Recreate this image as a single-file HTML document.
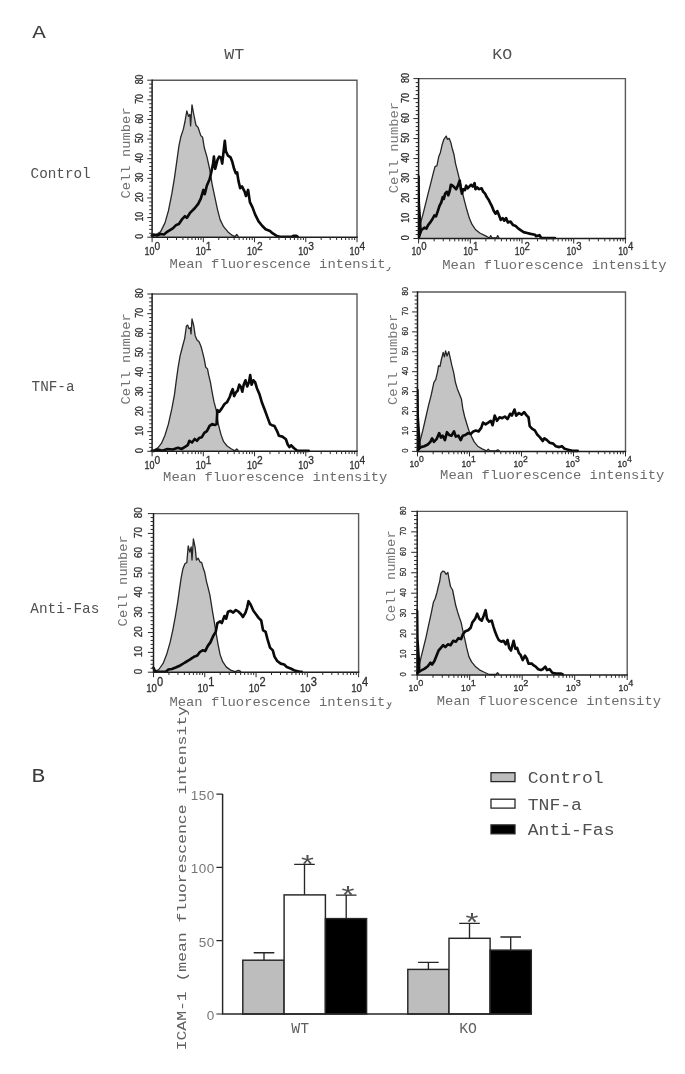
<!DOCTYPE html>
<html lang="en"><head><meta charset="utf-8"><title>Figure</title>
<style>html,body{margin:0;padding:0;background:#fff}body{width:685px;height:1074px;overflow:hidden}svg text{white-space:pre}</style>
</head><body>
<svg width="685" height="1074" viewBox="0 0 685 1074" style="display:block">
<rect width="685" height="1074" fill="#fff"/>
<text transform="translate(32.20 38.00) scale(1.000 0.850)" font-family='"Liberation Mono", monospace' font-size="22.6" fill="#3c3c3c" text-anchor="start" >A</text>
<text transform="translate(31.60 781.80) scale(1.000 0.860)" font-family='"Liberation Mono", monospace' font-size="22.6" fill="#3c3c3c" text-anchor="start" >B</text>
<text transform="translate(224.30 59.40) scale(1.000 0.905)" font-family='"Liberation Mono", monospace' font-size="16.6" fill="#505050" text-anchor="start" >WT</text>
<text transform="translate(492.30 59.40) scale(1.000 0.905)" font-family='"Liberation Mono", monospace' font-size="16.6" fill="#505050" text-anchor="start" >KO</text>
<text transform="translate(30.60 178.00)" font-family='"Liberation Mono", monospace' font-size="14.3" fill="#505050" text-anchor="start" >Control</text>
<text transform="translate(31.60 391.00) scale(1.000 0.970)" font-family='"Liberation Mono", monospace' font-size="14.3" fill="#505050" text-anchor="start" >TNF-a</text>
<text transform="translate(30.30 613.40) scale(1.000 0.970)" font-family='"Liberation Mono", monospace' font-size="14.4" fill="#505050" text-anchor="start" >Anti-Fas</text>
<path d="M152.1 236.7 L152.6 236.7 L160.5 231.9 L164.9 223.1 L168.4 210.9 L171.9 193.4 L174.5 177.6 L177.2 158.3 L178.9 146.1 L180.7 137.3 L183.3 129.4 L185.0 121.5 L186.8 111.0 L188.5 116.3 L189.9 114.5 L190.6 125.9 L192.0 104.9 L193.8 114.5 L195.9 125.0 L198.2 127.7 L200.8 135.6 L202.6 137.3 L204.3 147.8 L206.9 156.6 L209.6 168.8 L212.2 184.6 L214.8 196.9 L217.4 209.1 L220.1 219.6 L223.6 226.7 L228.0 231.9 L232.3 235.4 L235.0 236.7 L236.7 234.5 L238.5 236.7 Z" fill="#c4c4c4" stroke="none"/>
<path d="M152.1 236.7 L152.6 236.7 L160.5 231.9 L164.9 223.1 L168.4 210.9 L171.9 193.4 L174.5 177.6 L177.2 158.3 L178.9 146.1 L180.7 137.3 L183.3 129.4 L185.0 121.5 L186.8 111.0 L188.5 116.3 L189.9 114.5 L190.6 125.9 L192.0 104.9 L193.8 114.5 L195.9 125.0 L198.2 127.7 L200.8 135.6 L202.6 137.3 L204.3 147.8 L206.9 156.6 L209.6 168.8 L212.2 184.6 L214.8 196.9 L217.4 209.1 L220.1 219.6 L223.6 226.7 L228.0 231.9 L232.3 235.4 L235.0 236.7 L236.7 234.5 L238.5 236.7" fill="none" stroke="#262626" stroke-width="1.3" stroke-linejoin="round"/>
<path d="M151.8 235.4 L153.5 234.5 L157.0 235.4 L160.5 234.0 L164.0 234.5 L167.5 231.6 L172.8 228.4 L176.3 224.9 L178.9 224.0 L182.4 218.8 L185.0 216.1 L186.8 217.9 L190.3 212.6 L194.7 208.3 L198.2 203.9 L200.8 198.6 L203.4 189.9 L204.7 194.2 L206.9 185.5 L209.6 179.3 L211.3 172.3 L213.1 163.6 L213.9 156.6 L215.2 168.8 L217.4 160.1 L219.2 156.6 L221.0 157.4 L222.2 163.6 L223.6 151.3 L224.8 140.8 L225.9 151.3 L228.0 155.7 L230.6 157.4 L232.3 161.8 L234.1 168.8 L235.8 173.2 L237.1 172.3 L238.5 181.1 L240.2 188.1 L242.0 186.4 L244.6 191.6 L246.0 196.0 L248.1 189.9 L249.9 202.1 L252.5 207.4 L255.1 214.4 L258.6 221.4 L262.1 225.8 L265.6 229.3 L270.0 231.0 L272.8 233.4 L276.3 235.7 L279.8 236.7 L290.3 236.7 L292.0 236.7 L293.8 235.7 L296.4 235.7 L297.7 236.7" fill="none" stroke="#0a0a0a" stroke-width="2.65" stroke-linejoin="round" stroke-linecap="round"/>
<path d="M152.10 80.20H357.00V237.20" fill="none" stroke="#5a5a5a" stroke-width="1.4"/>
<path d="M152.10 79.50V237.20H357.70" fill="none" stroke="#1c1c1c" stroke-width="1.5"/>
<path d="M147.30 237.20H152.10M149.20 233.27H152.10M149.20 229.35H152.10M149.20 225.42H152.10M149.20 221.50H152.10M147.30 217.57H152.10M149.20 213.65H152.10M149.20 209.72H152.10M149.20 205.80H152.10M149.20 201.88H152.10M147.30 197.95H152.10M149.20 194.02H152.10M149.20 190.10H152.10M149.20 186.17H152.10M149.20 182.25H152.10M147.30 178.32H152.10M149.20 174.40H152.10M149.20 170.47H152.10M149.20 166.55H152.10M149.20 162.62H152.10M147.30 158.70H152.10M149.20 154.77H152.10M149.20 150.85H152.10M149.20 146.93H152.10M149.20 143.00H152.10M147.30 139.07H152.10M149.20 135.15H152.10M149.20 131.22H152.10M149.20 127.30H152.10M149.20 123.38H152.10M147.30 119.45H152.10M149.20 115.52H152.10M149.20 111.60H152.10M149.20 107.67H152.10M149.20 103.75H152.10M147.30 99.82H152.10M149.20 95.90H152.10M149.20 91.97H152.10M149.20 88.05H152.10M149.20 84.12H152.10M147.30 80.20H152.10" stroke="#2a2a2a" stroke-width="1" fill="none"/>
<path d="M152.10 237.20V242.20M167.52 237.20V240.00M176.54 237.20V240.00M182.94 237.20V240.00M187.90 237.20V240.00M191.96 237.20V240.00M195.39 237.20V240.00M198.36 237.20V240.00M200.98 237.20V240.00M203.32 237.20V242.20M218.75 237.20V240.00M227.77 237.20V240.00M234.17 237.20V240.00M239.13 237.20V240.00M243.19 237.20V240.00M246.62 237.20V240.00M249.59 237.20V240.00M252.21 237.20V240.00M254.55 237.20V242.20M269.97 237.20V240.00M278.99 237.20V240.00M285.39 237.20V240.00M290.35 237.20V240.00M294.41 237.20V240.00M297.84 237.20V240.00M300.81 237.20V240.00M303.43 237.20V240.00M305.77 237.20V242.20M321.20 237.20V240.00M330.22 237.20V240.00M336.62 237.20V240.00M341.58 237.20V240.00M345.64 237.20V240.00M349.07 237.20V240.00M352.04 237.20V240.00M354.66 237.20V240.00M357.00 237.20V242.20" stroke="#2a2a2a" stroke-width="1" fill="none"/>
<text transform="translate(142.80 236.40) rotate(-90) scale(0.855 1.000)" font-family='"Liberation Sans", sans-serif' font-size="10.2" fill="#2e2e2e" text-anchor="middle" stroke="#2e2e2e" stroke-width="0.3">0</text>
<text transform="translate(142.80 216.77) rotate(-90) scale(0.855 1.000)" font-family='"Liberation Sans", sans-serif' font-size="10.2" fill="#2e2e2e" text-anchor="middle" stroke="#2e2e2e" stroke-width="0.3">10</text>
<text transform="translate(142.80 197.15) rotate(-90) scale(0.855 1.000)" font-family='"Liberation Sans", sans-serif' font-size="10.2" fill="#2e2e2e" text-anchor="middle" stroke="#2e2e2e" stroke-width="0.3">20</text>
<text transform="translate(142.80 177.52) rotate(-90) scale(0.855 1.000)" font-family='"Liberation Sans", sans-serif' font-size="10.2" fill="#2e2e2e" text-anchor="middle" stroke="#2e2e2e" stroke-width="0.3">30</text>
<text transform="translate(142.80 157.90) rotate(-90) scale(0.855 1.000)" font-family='"Liberation Sans", sans-serif' font-size="10.2" fill="#2e2e2e" text-anchor="middle" stroke="#2e2e2e" stroke-width="0.3">40</text>
<text transform="translate(142.80 138.27) rotate(-90) scale(0.855 1.000)" font-family='"Liberation Sans", sans-serif' font-size="10.2" fill="#2e2e2e" text-anchor="middle" stroke="#2e2e2e" stroke-width="0.3">50</text>
<text transform="translate(142.80 118.65) rotate(-90) scale(0.855 1.000)" font-family='"Liberation Sans", sans-serif' font-size="10.2" fill="#2e2e2e" text-anchor="middle" stroke="#2e2e2e" stroke-width="0.3">60</text>
<text transform="translate(142.80 99.02) rotate(-90) scale(0.855 1.000)" font-family='"Liberation Sans", sans-serif' font-size="10.2" fill="#2e2e2e" text-anchor="middle" stroke="#2e2e2e" stroke-width="0.3">70</text>
<text transform="translate(142.80 79.40) rotate(-90) scale(0.855 1.000)" font-family='"Liberation Sans", sans-serif' font-size="10.2" fill="#2e2e2e" text-anchor="middle" stroke="#2e2e2e" stroke-width="0.3">80</text>
<text transform="translate(154.50 255.00) scale(0.900 1.000)" font-family='"Liberation Sans", sans-serif' font-size="10" fill="#2e2e2e" text-anchor="end" stroke="#2e2e2e" stroke-width="0.3">10</text>
<text transform="translate(154.60 249.70) scale(0.900 1.000)" font-family='"Liberation Sans", sans-serif' font-size="11.3" fill="#2e2e2e" text-anchor="start" stroke="#2e2e2e" stroke-width="0.3">0</text>
<text transform="translate(205.72 255.00) scale(0.900 1.000)" font-family='"Liberation Sans", sans-serif' font-size="10" fill="#2e2e2e" text-anchor="end" stroke="#2e2e2e" stroke-width="0.3">10</text>
<text transform="translate(205.82 249.70) scale(0.900 1.000)" font-family='"Liberation Sans", sans-serif' font-size="11.3" fill="#2e2e2e" text-anchor="start" stroke="#2e2e2e" stroke-width="0.3">1</text>
<text transform="translate(256.95 255.00) scale(0.900 1.000)" font-family='"Liberation Sans", sans-serif' font-size="10" fill="#2e2e2e" text-anchor="end" stroke="#2e2e2e" stroke-width="0.3">10</text>
<text transform="translate(257.05 249.70) scale(0.900 1.000)" font-family='"Liberation Sans", sans-serif' font-size="11.3" fill="#2e2e2e" text-anchor="start" stroke="#2e2e2e" stroke-width="0.3">2</text>
<text transform="translate(308.17 255.00) scale(0.900 1.000)" font-family='"Liberation Sans", sans-serif' font-size="10" fill="#2e2e2e" text-anchor="end" stroke="#2e2e2e" stroke-width="0.3">10</text>
<text transform="translate(308.27 249.70) scale(0.900 1.000)" font-family='"Liberation Sans", sans-serif' font-size="11.3" fill="#2e2e2e" text-anchor="start" stroke="#2e2e2e" stroke-width="0.3">3</text>
<text transform="translate(359.40 255.00) scale(0.900 1.000)" font-family='"Liberation Sans", sans-serif' font-size="10" fill="#2e2e2e" text-anchor="end" stroke="#2e2e2e" stroke-width="0.3">10</text>
<text transform="translate(359.50 249.70) scale(0.900 1.000)" font-family='"Liberation Sans", sans-serif' font-size="11.3" fill="#2e2e2e" text-anchor="start" stroke="#2e2e2e" stroke-width="0.3">4</text>
<text transform="translate(130.20 198.60) rotate(-90) scale(1.000 0.900)" font-family='"Liberation Mono", monospace' font-size="13.85" fill="#707070" text-anchor="start" >Cell number</text>
<text transform="translate(169.60 268.20) scale(1.000 0.860)" font-family='"Liberation Mono", monospace' font-size="13.85" fill="#6c6c6c" text-anchor="start" >Mean fluorescence intensity</text>
<rect x="385.6" y="255" width="16" height="12.3" fill="#fff"/>
<path d="M419.6 238.0 L419.6 226.9 L419.9 225.1 L422.9 214.6 L425.5 204.1 L428.1 193.6 L430.8 183.1 L433.4 172.6 L435.1 166.4 L436.9 165.9 L438.7 156.8 L440.4 152.4 L442.2 144.5 L443.9 139.3 L446.2 136.1 L447.4 139.3 L449.2 138.4 L450.9 142.8 L452.1 148.0 L453.9 154.2 L455.6 163.8 L457.4 170.8 L459.1 177.8 L460.9 185.7 L462.7 193.6 L464.4 200.6 L466.7 209.3 L469.3 218.1 L471.9 224.2 L475.4 229.5 L479.8 233.0 L485.1 235.6 L489.5 238.0 L490.7 235.6 L492.1 238.0 L496.5 238.0 L497.7 235.6 L499.1 238.0 Z" fill="#c4c4c4" stroke="none"/>
<path d="M419.6 238.0 L419.6 226.9 L419.9 225.1 L422.9 214.6 L425.5 204.1 L428.1 193.6 L430.8 183.1 L433.4 172.6 L435.1 166.4 L436.9 165.9 L438.7 156.8 L440.4 152.4 L442.2 144.5 L443.9 139.3 L446.2 136.1 L447.4 139.3 L449.2 138.4 L450.9 142.8 L452.1 148.0 L453.9 154.2 L455.6 163.8 L457.4 170.8 L459.1 177.8 L460.9 185.7 L462.7 193.6 L464.4 200.6 L466.7 209.3 L469.3 218.1 L471.9 224.2 L475.4 229.5 L479.8 233.0 L485.1 235.6 L489.5 238.0 L490.7 235.6 L492.1 238.0 L496.5 238.0 L497.7 235.6 L499.1 238.0" fill="none" stroke="#262626" stroke-width="1.3" stroke-linejoin="round"/>
<path d="M419.7 234.8 L420.3 232.1 L422.0 229.5 L424.6 227.7 L426.4 228.6 L428.1 225.1 L430.8 221.6 L432.5 219.0 L434.3 215.5 L436.0 216.4 L437.8 211.1 L439.5 205.8 L441.3 202.3 L442.7 197.1 L443.9 198.8 L445.1 193.6 L446.9 191.8 L448.3 195.3 L449.7 191.0 L450.9 184.8 L452.7 185.7 L454.4 187.4 L456.2 189.2 L457.9 185.7 L459.7 180.4 L460.9 189.2 L462.0 193.6 L463.2 189.2 L464.9 190.1 L466.2 185.7 L467.6 188.3 L469.3 186.6 L471.1 184.8 L472.8 186.6 L474.6 183.1 L475.4 189.2 L477.2 187.4 L478.9 189.2 L481.6 188.3 L483.3 191.8 L485.1 193.6 L486.8 197.1 L488.6 199.7 L490.3 203.2 L492.1 206.7 L493.8 211.1 L495.6 213.7 L497.3 211.1 L499.1 215.5 L500.8 219.9 L502.6 218.1 L504.3 220.7 L506.1 218.1 L507.9 222.5 L510.5 221.6 L513.1 225.1 L515.7 226.0 L518.4 228.6 L521.0 230.4 L523.6 232.1 L527.1 233.0 L530.6 233.9 L535.0 234.8 L536.0 236.1 L539.5 235.2 L541.3 238.0 L553.5 238.0 L554.9 238.0" fill="none" stroke="#0a0a0a" stroke-width="2.65" stroke-linejoin="round" stroke-linecap="round"/>
<path d="M418.60 78.60H625.40V238.50" fill="none" stroke="#5a5a5a" stroke-width="1.4"/>
<path d="M418.60 77.90V238.50H626.10" fill="none" stroke="#1c1c1c" stroke-width="1.5"/>
<path d="M417.80 174.00L419.80 175.94L420.10 203.03L421.40 222.38L421.90 232.05L419.60 238.50L417.80 238.50Z" fill="#0a0a0a"/>
<path d="M413.40 238.50H418.60M415.70 234.50H418.60M415.70 230.50H418.60M415.70 226.51H418.60M415.70 222.51H418.60M413.40 218.51H418.60M415.70 214.51H418.60M415.70 210.52H418.60M415.70 206.52H418.60M415.70 202.52H418.60M413.40 198.53H418.60M415.70 194.53H418.60M415.70 190.53H418.60M415.70 186.53H418.60M415.70 182.53H418.60M413.40 178.54H418.60M415.70 174.54H418.60M415.70 170.54H418.60M415.70 166.55H418.60M415.70 162.55H418.60M413.40 158.55H418.60M415.70 154.55H418.60M415.70 150.56H418.60M415.70 146.56H418.60M415.70 142.56H418.60M413.40 138.56H418.60M415.70 134.56H418.60M415.70 130.57H418.60M415.70 126.57H418.60M415.70 122.57H418.60M413.40 118.58H418.60M415.70 114.58H418.60M415.70 110.58H418.60M415.70 106.58H418.60M415.70 102.59H418.60M413.40 98.59H418.60M415.70 94.59H418.60M415.70 90.59H418.60M415.70 86.59H418.60M415.70 82.60H418.60M413.40 78.60H418.60" stroke="#2a2a2a" stroke-width="1" fill="none"/>
<path d="M418.60 238.50V243.50M434.16 238.50V241.30M443.27 238.50V241.30M449.73 238.50V241.30M454.74 238.50V241.30M458.83 238.50V241.30M462.29 238.50V241.30M465.29 238.50V241.30M467.93 238.50V241.30M470.30 238.50V243.50M485.86 238.50V241.30M494.97 238.50V241.30M501.43 238.50V241.30M506.44 238.50V241.30M510.53 238.50V241.30M513.99 238.50V241.30M516.99 238.50V241.30M519.63 238.50V241.30M522.00 238.50V243.50M537.56 238.50V241.30M546.67 238.50V241.30M553.13 238.50V241.30M558.14 238.50V241.30M562.23 238.50V241.30M565.69 238.50V241.30M568.69 238.50V241.30M571.33 238.50V241.30M573.70 238.50V243.50M589.26 238.50V241.30M598.37 238.50V241.30M604.83 238.50V241.30M609.84 238.50V241.30M613.93 238.50V241.30M617.39 238.50V241.30M620.39 238.50V241.30M623.03 238.50V241.30M625.40 238.50V243.50" stroke="#2a2a2a" stroke-width="1" fill="none"/>
<text transform="translate(409.40 237.80) rotate(-90) scale(0.850 1.000)" font-family='"Liberation Sans", sans-serif' font-size="10.6" fill="#2e2e2e" text-anchor="middle" stroke="#2e2e2e" stroke-width="0.3">0</text>
<text transform="translate(409.40 217.81) rotate(-90) scale(0.850 1.000)" font-family='"Liberation Sans", sans-serif' font-size="10.6" fill="#2e2e2e" text-anchor="middle" stroke="#2e2e2e" stroke-width="0.3">10</text>
<text transform="translate(409.40 197.83) rotate(-90) scale(0.850 1.000)" font-family='"Liberation Sans", sans-serif' font-size="10.6" fill="#2e2e2e" text-anchor="middle" stroke="#2e2e2e" stroke-width="0.3">20</text>
<text transform="translate(409.40 177.84) rotate(-90) scale(0.850 1.000)" font-family='"Liberation Sans", sans-serif' font-size="10.6" fill="#2e2e2e" text-anchor="middle" stroke="#2e2e2e" stroke-width="0.3">30</text>
<text transform="translate(409.40 157.85) rotate(-90) scale(0.850 1.000)" font-family='"Liberation Sans", sans-serif' font-size="10.6" fill="#2e2e2e" text-anchor="middle" stroke="#2e2e2e" stroke-width="0.3">40</text>
<text transform="translate(409.40 137.86) rotate(-90) scale(0.850 1.000)" font-family='"Liberation Sans", sans-serif' font-size="10.6" fill="#2e2e2e" text-anchor="middle" stroke="#2e2e2e" stroke-width="0.3">50</text>
<text transform="translate(409.40 117.88) rotate(-90) scale(0.850 1.000)" font-family='"Liberation Sans", sans-serif' font-size="10.6" fill="#2e2e2e" text-anchor="middle" stroke="#2e2e2e" stroke-width="0.3">60</text>
<text transform="translate(409.40 97.89) rotate(-90) scale(0.850 1.000)" font-family='"Liberation Sans", sans-serif' font-size="10.6" fill="#2e2e2e" text-anchor="middle" stroke="#2e2e2e" stroke-width="0.3">70</text>
<text transform="translate(409.40 77.90) rotate(-90) scale(0.850 1.000)" font-family='"Liberation Sans", sans-serif' font-size="10.6" fill="#2e2e2e" text-anchor="middle" stroke="#2e2e2e" stroke-width="0.3">80</text>
<text transform="translate(421.10 255.30) scale(0.870 1.000)" font-family='"Liberation Sans", sans-serif' font-size="10" fill="#2e2e2e" text-anchor="end" stroke="#2e2e2e" stroke-width="0.3">10</text>
<text transform="translate(421.20 250.40) scale(0.930 1.000)" font-family='"Liberation Sans", sans-serif' font-size="10.3" fill="#2e2e2e" text-anchor="start" stroke="#2e2e2e" stroke-width="0.3">0</text>
<text transform="translate(472.80 255.30) scale(0.870 1.000)" font-family='"Liberation Sans", sans-serif' font-size="10" fill="#2e2e2e" text-anchor="end" stroke="#2e2e2e" stroke-width="0.3">10</text>
<text transform="translate(472.90 250.40) scale(0.930 1.000)" font-family='"Liberation Sans", sans-serif' font-size="10.3" fill="#2e2e2e" text-anchor="start" stroke="#2e2e2e" stroke-width="0.3">1</text>
<text transform="translate(524.50 255.30) scale(0.870 1.000)" font-family='"Liberation Sans", sans-serif' font-size="10" fill="#2e2e2e" text-anchor="end" stroke="#2e2e2e" stroke-width="0.3">10</text>
<text transform="translate(524.60 250.40) scale(0.930 1.000)" font-family='"Liberation Sans", sans-serif' font-size="10.3" fill="#2e2e2e" text-anchor="start" stroke="#2e2e2e" stroke-width="0.3">2</text>
<text transform="translate(576.20 255.30) scale(0.870 1.000)" font-family='"Liberation Sans", sans-serif' font-size="10" fill="#2e2e2e" text-anchor="end" stroke="#2e2e2e" stroke-width="0.3">10</text>
<text transform="translate(576.30 250.40) scale(0.930 1.000)" font-family='"Liberation Sans", sans-serif' font-size="10.3" fill="#2e2e2e" text-anchor="start" stroke="#2e2e2e" stroke-width="0.3">3</text>
<text transform="translate(627.90 255.30) scale(0.870 1.000)" font-family='"Liberation Sans", sans-serif' font-size="10" fill="#2e2e2e" text-anchor="end" stroke="#2e2e2e" stroke-width="0.3">10</text>
<text transform="translate(628.00 250.40) scale(0.930 1.000)" font-family='"Liberation Sans", sans-serif' font-size="10.3" fill="#2e2e2e" text-anchor="start" stroke="#2e2e2e" stroke-width="0.3">4</text>
<text transform="translate(397.70 193.20) rotate(-90) scale(1.000 0.900)" font-family='"Liberation Mono", monospace' font-size="13.85" fill="#787878" text-anchor="start" >Cell number</text>
<text transform="translate(442.30 268.90) scale(1.000 0.860)" font-family='"Liberation Mono", monospace' font-size="13.85" fill="#6c6c6c" text-anchor="start" >Mean fluorescence intensity</text>
<path d="M152.1 450.8 L152.6 450.8 L157.9 447.8 L161.4 443.4 L164.9 435.5 L168.4 424.1 L171.9 408.4 L174.5 394.3 L176.3 380.3 L178.0 368.1 L180.1 355.8 L182.4 347.0 L184.7 338.3 L186.4 326.0 L187.7 325.1 L188.9 328.7 L190.3 327.8 L191.0 333.9 L192.0 319.0 L193.8 326.0 L195.2 335.7 L197.0 340.0 L199.1 341.8 L201.2 347.0 L202.6 352.3 L204.3 359.3 L205.7 367.2 L207.5 368.9 L208.7 375.1 L210.4 382.1 L212.2 392.6 L213.9 401.4 L216.2 410.1 L218.3 424.1 L221.0 434.6 L223.6 441.7 L227.1 446.0 L231.5 449.0 L235.0 450.8 L236.7 449.0 L238.5 450.8 Z" fill="#c4c4c4" stroke="none"/>
<path d="M152.1 450.8 L152.6 450.8 L157.9 447.8 L161.4 443.4 L164.9 435.5 L168.4 424.1 L171.9 408.4 L174.5 394.3 L176.3 380.3 L178.0 368.1 L180.1 355.8 L182.4 347.0 L184.7 338.3 L186.4 326.0 L187.7 325.1 L188.9 328.7 L190.3 327.8 L191.0 333.9 L192.0 319.0 L193.8 326.0 L195.2 335.7 L197.0 340.0 L199.1 341.8 L201.2 347.0 L202.6 352.3 L204.3 359.3 L205.7 367.2 L207.5 368.9 L208.7 375.1 L210.4 382.1 L212.2 392.6 L213.9 401.4 L216.2 410.1 L218.3 424.1 L221.0 434.6 L223.6 441.7 L227.1 446.0 L231.5 449.0 L235.0 450.8 L236.7 449.0 L238.5 450.8" fill="none" stroke="#262626" stroke-width="1.3" stroke-linejoin="round"/>
<path d="M151.8 450.8 L154.4 450.8 L157.9 449.5 L162.3 450.8 L167.5 449.0 L172.8 449.5 L178.0 447.8 L181.5 449.0 L185.0 446.9 L187.7 445.2 L189.4 440.8 L192.0 442.5 L194.7 439.0 L197.0 440.8 L199.1 438.1 L201.7 437.3 L204.3 432.9 L206.9 431.1 L209.6 425.9 L212.2 424.1 L214.8 425.0 L216.6 424.1 L217.4 410.1 L219.2 411.9 L221.8 408.4 L224.5 404.0 L227.1 402.2 L229.7 397.0 L231.5 391.7 L232.7 389.1 L234.1 396.1 L235.8 392.6 L237.6 390.8 L239.3 384.7 L241.1 387.3 L242.3 391.7 L243.7 384.7 L245.5 380.3 L247.2 386.5 L249.0 382.1 L250.2 375.1 L251.6 384.7 L253.4 380.3 L255.1 382.1 L256.9 388.2 L259.5 394.3 L262.1 403.1 L264.8 410.1 L267.4 417.1 L270.0 424.1 L271.9 425.2 L274.5 426.1 L277.2 431.3 L278.9 435.7 L282.4 436.6 L285.9 439.2 L287.7 444.5 L289.4 447.1 L291.2 445.3 L293.8 448.0 L297.3 450.8 L307.8 450.8 L308.7 450.8" fill="none" stroke="#0a0a0a" stroke-width="2.65" stroke-linejoin="round" stroke-linecap="round"/>
<path d="M152.10 294.00H357.00V451.30" fill="none" stroke="#5a5a5a" stroke-width="1.4"/>
<path d="M152.10 293.30V451.30H357.70" fill="none" stroke="#1c1c1c" stroke-width="1.5"/>
<path d="M147.30 451.30H152.10M149.20 447.37H152.10M149.20 443.44H152.10M149.20 439.50H152.10M149.20 435.57H152.10M147.30 431.64H152.10M149.20 427.71H152.10M149.20 423.77H152.10M149.20 419.84H152.10M149.20 415.91H152.10M147.30 411.98H152.10M149.20 408.04H152.10M149.20 404.11H152.10M149.20 400.18H152.10M149.20 396.25H152.10M147.30 392.31H152.10M149.20 388.38H152.10M149.20 384.45H152.10M149.20 380.51H152.10M149.20 376.58H152.10M147.30 372.65H152.10M149.20 368.72H152.10M149.20 364.79H152.10M149.20 360.85H152.10M149.20 356.92H152.10M147.30 352.99H152.10M149.20 349.06H152.10M149.20 345.12H152.10M149.20 341.19H152.10M149.20 337.26H152.10M147.30 333.32H152.10M149.20 329.39H152.10M149.20 325.46H152.10M149.20 321.53H152.10M149.20 317.60H152.10M147.30 313.66H152.10M149.20 309.73H152.10M149.20 305.80H152.10M149.20 301.87H152.10M149.20 297.93H152.10M147.30 294.00H152.10" stroke="#2a2a2a" stroke-width="1" fill="none"/>
<path d="M152.10 451.30V456.30M167.52 451.30V454.10M176.54 451.30V454.10M182.94 451.30V454.10M187.90 451.30V454.10M191.96 451.30V454.10M195.39 451.30V454.10M198.36 451.30V454.10M200.98 451.30V454.10M203.32 451.30V456.30M218.75 451.30V454.10M227.77 451.30V454.10M234.17 451.30V454.10M239.13 451.30V454.10M243.19 451.30V454.10M246.62 451.30V454.10M249.59 451.30V454.10M252.21 451.30V454.10M254.55 451.30V456.30M269.97 451.30V454.10M278.99 451.30V454.10M285.39 451.30V454.10M290.35 451.30V454.10M294.41 451.30V454.10M297.84 451.30V454.10M300.81 451.30V454.10M303.43 451.30V454.10M305.77 451.30V456.30M321.20 451.30V454.10M330.22 451.30V454.10M336.62 451.30V454.10M341.58 451.30V454.10M345.64 451.30V454.10M349.07 451.30V454.10M352.04 451.30V454.10M354.66 451.30V454.10M357.00 451.30V456.30" stroke="#2a2a2a" stroke-width="1" fill="none"/>
<text transform="translate(142.80 450.50) rotate(-90) scale(0.855 1.000)" font-family='"Liberation Sans", sans-serif' font-size="10.2" fill="#2e2e2e" text-anchor="middle" stroke="#2e2e2e" stroke-width="0.3">0</text>
<text transform="translate(142.80 430.84) rotate(-90) scale(0.855 1.000)" font-family='"Liberation Sans", sans-serif' font-size="10.2" fill="#2e2e2e" text-anchor="middle" stroke="#2e2e2e" stroke-width="0.3">10</text>
<text transform="translate(142.80 411.18) rotate(-90) scale(0.855 1.000)" font-family='"Liberation Sans", sans-serif' font-size="10.2" fill="#2e2e2e" text-anchor="middle" stroke="#2e2e2e" stroke-width="0.3">20</text>
<text transform="translate(142.80 391.51) rotate(-90) scale(0.855 1.000)" font-family='"Liberation Sans", sans-serif' font-size="10.2" fill="#2e2e2e" text-anchor="middle" stroke="#2e2e2e" stroke-width="0.3">30</text>
<text transform="translate(142.80 371.85) rotate(-90) scale(0.855 1.000)" font-family='"Liberation Sans", sans-serif' font-size="10.2" fill="#2e2e2e" text-anchor="middle" stroke="#2e2e2e" stroke-width="0.3">40</text>
<text transform="translate(142.80 352.19) rotate(-90) scale(0.855 1.000)" font-family='"Liberation Sans", sans-serif' font-size="10.2" fill="#2e2e2e" text-anchor="middle" stroke="#2e2e2e" stroke-width="0.3">50</text>
<text transform="translate(142.80 332.52) rotate(-90) scale(0.855 1.000)" font-family='"Liberation Sans", sans-serif' font-size="10.2" fill="#2e2e2e" text-anchor="middle" stroke="#2e2e2e" stroke-width="0.3">60</text>
<text transform="translate(142.80 312.86) rotate(-90) scale(0.855 1.000)" font-family='"Liberation Sans", sans-serif' font-size="10.2" fill="#2e2e2e" text-anchor="middle" stroke="#2e2e2e" stroke-width="0.3">70</text>
<text transform="translate(142.80 293.20) rotate(-90) scale(0.855 1.000)" font-family='"Liberation Sans", sans-serif' font-size="10.2" fill="#2e2e2e" text-anchor="middle" stroke="#2e2e2e" stroke-width="0.3">80</text>
<text transform="translate(154.50 469.10) scale(0.900 1.000)" font-family='"Liberation Sans", sans-serif' font-size="10" fill="#2e2e2e" text-anchor="end" stroke="#2e2e2e" stroke-width="0.3">10</text>
<text transform="translate(154.60 463.80) scale(0.900 1.000)" font-family='"Liberation Sans", sans-serif' font-size="11.3" fill="#2e2e2e" text-anchor="start" stroke="#2e2e2e" stroke-width="0.3">0</text>
<text transform="translate(205.72 469.10) scale(0.900 1.000)" font-family='"Liberation Sans", sans-serif' font-size="10" fill="#2e2e2e" text-anchor="end" stroke="#2e2e2e" stroke-width="0.3">10</text>
<text transform="translate(205.82 463.80) scale(0.900 1.000)" font-family='"Liberation Sans", sans-serif' font-size="11.3" fill="#2e2e2e" text-anchor="start" stroke="#2e2e2e" stroke-width="0.3">1</text>
<text transform="translate(256.95 469.10) scale(0.900 1.000)" font-family='"Liberation Sans", sans-serif' font-size="10" fill="#2e2e2e" text-anchor="end" stroke="#2e2e2e" stroke-width="0.3">10</text>
<text transform="translate(257.05 463.80) scale(0.900 1.000)" font-family='"Liberation Sans", sans-serif' font-size="11.3" fill="#2e2e2e" text-anchor="start" stroke="#2e2e2e" stroke-width="0.3">2</text>
<text transform="translate(308.17 469.10) scale(0.900 1.000)" font-family='"Liberation Sans", sans-serif' font-size="10" fill="#2e2e2e" text-anchor="end" stroke="#2e2e2e" stroke-width="0.3">10</text>
<text transform="translate(308.27 463.80) scale(0.900 1.000)" font-family='"Liberation Sans", sans-serif' font-size="11.3" fill="#2e2e2e" text-anchor="start" stroke="#2e2e2e" stroke-width="0.3">3</text>
<text transform="translate(359.40 469.10) scale(0.900 1.000)" font-family='"Liberation Sans", sans-serif' font-size="10" fill="#2e2e2e" text-anchor="end" stroke="#2e2e2e" stroke-width="0.3">10</text>
<text transform="translate(359.50 463.80) scale(0.900 1.000)" font-family='"Liberation Sans", sans-serif' font-size="11.3" fill="#2e2e2e" text-anchor="start" stroke="#2e2e2e" stroke-width="0.3">4</text>
<text transform="translate(130.00 404.50) rotate(-90) scale(1.000 0.900)" font-family='"Liberation Mono", monospace' font-size="13.85" fill="#707070" text-anchor="start" >Cell number</text>
<text transform="translate(163.10 480.50) scale(1.000 0.860)" font-family='"Liberation Mono", monospace' font-size="13.85" fill="#6c6c6c" text-anchor="start" >Mean fluorescence intensity</text>
<path d="M417.8 450.9 L417.8 448.9 L418.1 447.1 L420.8 438.4 L423.4 427.9 L426.0 416.5 L428.6 405.1 L431.3 394.6 L433.9 382.3 L435.7 379.7 L437.4 372.7 L438.6 365.7 L440.0 366.5 L441.4 359.5 L443.2 352.5 L444.4 356.9 L445.6 350.8 L447.0 356.0 L448.8 351.6 L450.2 357.8 L451.9 365.7 L453.7 372.7 L455.4 382.3 L457.2 388.4 L459.3 393.7 L461.4 398.9 L462.8 408.6 L464.6 416.5 L466.7 423.5 L468.9 430.5 L471.6 436.6 L474.2 441.9 L477.7 446.2 L482.1 448.9 L486.5 450.9 L488.2 449.2 L490.0 450.9 L496.1 450.9 L497.8 449.8 L499.6 450.9 Z" fill="#c4c4c4" stroke="none"/>
<path d="M417.8 450.9 L417.8 448.9 L418.1 447.1 L420.8 438.4 L423.4 427.9 L426.0 416.5 L428.6 405.1 L431.3 394.6 L433.9 382.3 L435.7 379.7 L437.4 372.7 L438.6 365.7 L440.0 366.5 L441.4 359.5 L443.2 352.5 L444.4 356.9 L445.6 350.8 L447.0 356.0 L448.8 351.6 L450.2 357.8 L451.9 365.7 L453.7 372.7 L455.4 382.3 L457.2 388.4 L459.3 393.7 L461.4 398.9 L462.8 408.6 L464.6 416.5 L466.7 423.5 L468.9 430.5 L471.6 436.6 L474.2 441.9 L477.7 446.2 L482.1 448.9 L486.5 450.9 L488.2 449.2 L490.0 450.9 L496.1 450.9 L497.8 449.8 L499.6 450.9" fill="none" stroke="#262626" stroke-width="1.3" stroke-linejoin="round"/>
<path d="M418.0 450.9 L418.1 449.8 L420.8 447.1 L424.3 446.2 L427.8 444.5 L430.4 441.9 L432.1 438.4 L433.9 441.9 L436.5 439.2 L439.2 433.1 L440.9 437.5 L442.7 435.7 L444.9 440.1 L447.0 432.2 L449.1 434.9 L451.4 435.7 L454.0 431.4 L455.8 436.6 L458.4 435.7 L460.7 440.1 L462.8 435.7 L465.4 434.9 L468.1 433.1 L470.7 434.0 L473.3 431.4 L475.9 430.5 L478.6 431.4 L481.2 427.9 L483.0 422.6 L485.6 424.3 L488.2 422.6 L490.8 420.8 L492.6 425.2 L494.7 415.6 L497.0 420.8 L499.6 417.3 L502.2 418.2 L504.9 416.5 L507.5 419.1 L510.1 413.8 L511.9 415.6 L514.5 409.5 L516.2 415.6 L518.9 413.0 L521.5 414.7 L524.1 412.1 L526.8 415.6 L528.5 417.3 L529.7 426.1 L532.0 428.7 L534.8 430.4 L537.4 434.8 L540.0 437.4 L542.7 441.0 L544.4 438.3 L547.0 440.1 L549.7 442.7 L553.2 443.6 L555.8 446.2 L559.3 447.1 L561.9 446.2 L564.6 448.8 L568.1 449.7 L572.4 450.9 L575.9 450.9 L577.7 450.9" fill="none" stroke="#0a0a0a" stroke-width="2.65" stroke-linejoin="round" stroke-linecap="round"/>
<path d="M417.50 292.00H625.50V451.40" fill="none" stroke="#5a5a5a" stroke-width="1.4"/>
<path d="M417.50 291.30V451.40H626.20" fill="none" stroke="#1c1c1c" stroke-width="1.5"/>
<path d="M416.70 387.50L418.70 389.42L419.00 416.25L420.30 435.42L420.80 445.01L418.50 451.40L416.70 451.40Z" fill="#0a0a0a"/>
<path d="M412.10 451.40H417.50M414.60 447.41H417.50M414.60 443.43H417.50M414.60 439.44H417.50M414.60 435.46H417.50M412.10 431.47H417.50M414.60 427.49H417.50M414.60 423.50H417.50M414.60 419.52H417.50M414.60 415.53H417.50M412.10 411.55H417.50M414.60 407.56H417.50M414.60 403.58H417.50M414.60 399.59H417.50M414.60 395.61H417.50M412.10 391.62H417.50M414.60 387.64H417.50M414.60 383.65H417.50M414.60 379.67H417.50M414.60 375.69H417.50M412.10 371.70H417.50M414.60 367.71H417.50M414.60 363.73H417.50M414.60 359.75H417.50M414.60 355.76H417.50M412.10 351.77H417.50M414.60 347.79H417.50M414.60 343.81H417.50M414.60 339.82H417.50M414.60 335.83H417.50M412.10 331.85H417.50M414.60 327.87H417.50M414.60 323.88H417.50M414.60 319.89H417.50M414.60 315.91H417.50M412.10 311.93H417.50M414.60 307.94H417.50M414.60 303.95H417.50M414.60 299.97H417.50M414.60 295.99H417.50M412.10 292.00H417.50" stroke="#2a2a2a" stroke-width="1" fill="none"/>
<path d="M417.50 451.40V456.40M433.15 451.40V454.20M442.31 451.40V454.20M448.81 451.40V454.20M453.85 451.40V454.20M457.96 451.40V454.20M461.45 451.40V454.20M464.46 451.40V454.20M467.12 451.40V454.20M469.50 451.40V456.40M485.15 451.40V454.20M494.31 451.40V454.20M500.81 451.40V454.20M505.85 451.40V454.20M509.96 451.40V454.20M513.45 451.40V454.20M516.46 451.40V454.20M519.12 451.40V454.20M521.50 451.40V456.40M537.15 451.40V454.20M546.31 451.40V454.20M552.81 451.40V454.20M557.85 451.40V454.20M561.96 451.40V454.20M565.45 451.40V454.20M568.46 451.40V454.20M571.12 451.40V454.20M573.50 451.40V456.40M589.15 451.40V454.20M598.31 451.40V454.20M604.81 451.40V454.20M609.85 451.40V454.20M613.96 451.40V454.20M617.45 451.40V454.20M620.46 451.40V454.20M623.12 451.40V454.20M625.50 451.40V456.40" stroke="#2a2a2a" stroke-width="1" fill="none"/>
<text transform="translate(407.60 450.70) rotate(-90) scale(0.860 1.000)" font-family='"Liberation Sans", sans-serif' font-size="8.9" fill="#2e2e2e" text-anchor="middle" stroke="#2e2e2e" stroke-width="0.3">0</text>
<text transform="translate(407.60 430.77) rotate(-90) scale(0.860 1.000)" font-family='"Liberation Sans", sans-serif' font-size="8.9" fill="#2e2e2e" text-anchor="middle" stroke="#2e2e2e" stroke-width="0.3">10</text>
<text transform="translate(407.60 410.85) rotate(-90) scale(0.860 1.000)" font-family='"Liberation Sans", sans-serif' font-size="8.9" fill="#2e2e2e" text-anchor="middle" stroke="#2e2e2e" stroke-width="0.3">20</text>
<text transform="translate(407.60 390.93) rotate(-90) scale(0.860 1.000)" font-family='"Liberation Sans", sans-serif' font-size="8.9" fill="#2e2e2e" text-anchor="middle" stroke="#2e2e2e" stroke-width="0.3">30</text>
<text transform="translate(407.60 371.00) rotate(-90) scale(0.860 1.000)" font-family='"Liberation Sans", sans-serif' font-size="8.9" fill="#2e2e2e" text-anchor="middle" stroke="#2e2e2e" stroke-width="0.3">40</text>
<text transform="translate(407.60 351.07) rotate(-90) scale(0.860 1.000)" font-family='"Liberation Sans", sans-serif' font-size="8.9" fill="#2e2e2e" text-anchor="middle" stroke="#2e2e2e" stroke-width="0.3">50</text>
<text transform="translate(407.60 331.15) rotate(-90) scale(0.860 1.000)" font-family='"Liberation Sans", sans-serif' font-size="8.9" fill="#2e2e2e" text-anchor="middle" stroke="#2e2e2e" stroke-width="0.3">60</text>
<text transform="translate(407.60 311.23) rotate(-90) scale(0.860 1.000)" font-family='"Liberation Sans", sans-serif' font-size="8.9" fill="#2e2e2e" text-anchor="middle" stroke="#2e2e2e" stroke-width="0.3">70</text>
<text transform="translate(407.60 291.30) rotate(-90) scale(0.860 1.000)" font-family='"Liberation Sans", sans-serif' font-size="8.9" fill="#2e2e2e" text-anchor="middle" stroke="#2e2e2e" stroke-width="0.3">80</text>
<text transform="translate(418.90 466.60) scale(0.930 1.000)" font-family='"Liberation Sans", sans-serif' font-size="9.2" fill="#2e2e2e" text-anchor="end" stroke="#2e2e2e" stroke-width="0.3">10</text>
<text transform="translate(419.00 462.40) scale(0.930 1.000)" font-family='"Liberation Sans", sans-serif' font-size="9.3" fill="#2e2e2e" text-anchor="start" stroke="#2e2e2e" stroke-width="0.3">0</text>
<text transform="translate(470.90 466.60) scale(0.930 1.000)" font-family='"Liberation Sans", sans-serif' font-size="9.2" fill="#2e2e2e" text-anchor="end" stroke="#2e2e2e" stroke-width="0.3">10</text>
<text transform="translate(471.00 462.40) scale(0.930 1.000)" font-family='"Liberation Sans", sans-serif' font-size="9.3" fill="#2e2e2e" text-anchor="start" stroke="#2e2e2e" stroke-width="0.3">1</text>
<text transform="translate(522.90 466.60) scale(0.930 1.000)" font-family='"Liberation Sans", sans-serif' font-size="9.2" fill="#2e2e2e" text-anchor="end" stroke="#2e2e2e" stroke-width="0.3">10</text>
<text transform="translate(523.00 462.40) scale(0.930 1.000)" font-family='"Liberation Sans", sans-serif' font-size="9.3" fill="#2e2e2e" text-anchor="start" stroke="#2e2e2e" stroke-width="0.3">2</text>
<text transform="translate(574.90 466.60) scale(0.930 1.000)" font-family='"Liberation Sans", sans-serif' font-size="9.2" fill="#2e2e2e" text-anchor="end" stroke="#2e2e2e" stroke-width="0.3">10</text>
<text transform="translate(575.00 462.40) scale(0.930 1.000)" font-family='"Liberation Sans", sans-serif' font-size="9.3" fill="#2e2e2e" text-anchor="start" stroke="#2e2e2e" stroke-width="0.3">3</text>
<text transform="translate(626.90 466.60) scale(0.930 1.000)" font-family='"Liberation Sans", sans-serif' font-size="9.2" fill="#2e2e2e" text-anchor="end" stroke="#2e2e2e" stroke-width="0.3">10</text>
<text transform="translate(627.00 462.40) scale(0.930 1.000)" font-family='"Liberation Sans", sans-serif' font-size="9.3" fill="#2e2e2e" text-anchor="start" stroke="#2e2e2e" stroke-width="0.3">4</text>
<text transform="translate(397.40 405.10) rotate(-90) scale(1.000 0.900)" font-family='"Liberation Mono", monospace' font-size="13.85" fill="#787878" text-anchor="start" >Cell number</text>
<text transform="translate(440.10 479.30) scale(1.000 0.860)" font-family='"Liberation Mono", monospace' font-size="13.85" fill="#6c6c6c" text-anchor="start" >Mean fluorescence intensity</text>
<path d="M153.5 671.7 L153.9 671.7 L158.8 669.5 L163.1 663.4 L166.6 654.6 L170.1 642.4 L172.8 630.1 L175.4 616.1 L177.7 602.1 L179.4 589.8 L181.2 577.6 L182.9 568.8 L185.0 563.5 L186.8 562.7 L188.2 546.0 L189.9 552.2 L191.2 546.9 L192.0 560.0 L193.4 539.0 L195.2 547.8 L196.4 560.0 L198.2 558.3 L199.9 561.8 L201.7 562.7 L203.4 568.8 L204.7 572.3 L206.4 581.1 L208.2 588.1 L209.9 595.1 L211.3 603.8 L212.7 612.6 L214.5 623.1 L216.2 633.6 L218.0 644.1 L220.1 654.6 L222.7 661.7 L226.2 666.9 L230.6 670.1 L235.0 671.7 L238.5 670.4 L241.1 671.7 Z" fill="#c4c4c4" stroke="none"/>
<path d="M153.5 671.7 L153.9 671.7 L158.8 669.5 L163.1 663.4 L166.6 654.6 L170.1 642.4 L172.8 630.1 L175.4 616.1 L177.7 602.1 L179.4 589.8 L181.2 577.6 L182.9 568.8 L185.0 563.5 L186.8 562.7 L188.2 546.0 L189.9 552.2 L191.2 546.9 L192.0 560.0 L193.4 539.0 L195.2 547.8 L196.4 560.0 L198.2 558.3 L199.9 561.8 L201.7 562.7 L203.4 568.8 L204.7 572.3 L206.4 581.1 L208.2 588.1 L209.9 595.1 L211.3 603.8 L212.7 612.6 L214.5 623.1 L216.2 633.6 L218.0 644.1 L220.1 654.6 L222.7 661.7 L226.2 666.9 L230.6 670.1 L235.0 671.7 L238.5 670.4 L241.1 671.7" fill="none" stroke="#262626" stroke-width="1.3" stroke-linejoin="round"/>
<path d="M153.5 667.8 L155.3 671.7 L160.5 671.7 L165.8 671.7 L168.4 669.5 L171.9 669.0 L176.3 667.3 L180.7 665.2 L185.0 662.5 L189.4 659.9 L192.0 658.1 L194.7 656.4 L197.3 655.5 L199.9 652.0 L202.6 650.3 L205.2 651.1 L207.8 645.9 L210.4 642.4 L213.1 636.2 L215.7 631.9 L217.4 623.1 L220.1 621.4 L221.8 623.1 L224.5 616.1 L226.2 618.7 L228.0 611.7 L230.6 610.8 L233.2 612.6 L235.8 610.0 L238.5 611.7 L241.1 614.3 L242.9 617.0 L245.5 612.6 L247.2 607.3 L248.5 601.2 L250.7 604.7 L253.4 610.8 L256.0 614.3 L258.6 617.9 L261.2 620.5 L263.0 630.1 L265.6 631.9 L267.4 638.9 L270.0 647.6 L272.8 650.4 L274.5 656.6 L277.2 661.0 L280.7 663.6 L284.2 664.5 L286.8 667.1 L291.2 668.8 L294.7 670.6 L299.9 671.7 L301.7 671.7" fill="none" stroke="#0a0a0a" stroke-width="2.65" stroke-linejoin="round" stroke-linecap="round"/>
<path d="M153.50 513.60H358.60V672.20" fill="none" stroke="#5a5a5a" stroke-width="1.4"/>
<path d="M153.50 512.90V672.20H359.30" fill="none" stroke="#1c1c1c" stroke-width="1.5"/>
<path d="M147.90 672.20H153.50M150.60 668.24H153.50M150.60 664.27H153.50M150.60 660.31H153.50M150.60 656.34H153.50M147.90 652.38H153.50M150.60 648.41H153.50M150.60 644.45H153.50M150.60 640.48H153.50M150.60 636.51H153.50M147.90 632.55H153.50M150.60 628.59H153.50M150.60 624.62H153.50M150.60 620.66H153.50M150.60 616.69H153.50M147.90 612.73H153.50M150.60 608.76H153.50M150.60 604.80H153.50M150.60 600.83H153.50M150.60 596.87H153.50M147.90 592.90H153.50M150.60 588.94H153.50M150.60 584.97H153.50M150.60 581.00H153.50M150.60 577.04H153.50M147.90 573.08H153.50M150.60 569.11H153.50M150.60 565.14H153.50M150.60 561.18H153.50M150.60 557.22H153.50M147.90 553.25H153.50M150.60 549.29H153.50M150.60 545.32H153.50M150.60 541.36H153.50M150.60 537.39H153.50M147.90 533.42H153.50M150.60 529.46H153.50M150.60 525.50H153.50M150.60 521.53H153.50M150.60 517.57H153.50M147.90 513.60H153.50" stroke="#2a2a2a" stroke-width="1" fill="none"/>
<path d="M153.50 672.20V677.20M168.94 672.20V675.00M177.96 672.20V675.00M184.37 672.20V675.00M189.34 672.20V675.00M193.40 672.20V675.00M196.83 672.20V675.00M199.81 672.20V675.00M202.43 672.20V675.00M204.78 672.20V677.20M220.21 672.20V675.00M229.24 672.20V675.00M235.65 672.20V675.00M240.61 672.20V675.00M244.67 672.20V675.00M248.11 672.20V675.00M251.08 672.20V675.00M253.70 672.20V675.00M256.05 672.20V677.20M271.49 672.20V675.00M280.51 672.20V675.00M286.92 672.20V675.00M291.89 672.20V675.00M295.95 672.20V675.00M299.38 672.20V675.00M302.36 672.20V675.00M304.98 672.20V675.00M307.33 672.20V677.20M322.76 672.20V675.00M331.79 672.20V675.00M338.20 672.20V675.00M343.16 672.20V675.00M347.22 672.20V675.00M350.66 672.20V675.00M353.63 672.20V675.00M356.25 672.20V675.00M358.60 672.20V677.20" stroke="#2a2a2a" stroke-width="1" fill="none"/>
<text transform="translate(142.20 671.40) rotate(-90) scale(0.900 1.000)" font-family='"Liberation Sans", sans-serif' font-size="11" fill="#2e2e2e" text-anchor="middle" stroke="#2e2e2e" stroke-width="0.3">0</text>
<text transform="translate(142.20 651.58) rotate(-90) scale(0.900 1.000)" font-family='"Liberation Sans", sans-serif' font-size="11" fill="#2e2e2e" text-anchor="middle" stroke="#2e2e2e" stroke-width="0.3">10</text>
<text transform="translate(142.20 631.75) rotate(-90) scale(0.900 1.000)" font-family='"Liberation Sans", sans-serif' font-size="11" fill="#2e2e2e" text-anchor="middle" stroke="#2e2e2e" stroke-width="0.3">20</text>
<text transform="translate(142.20 611.93) rotate(-90) scale(0.900 1.000)" font-family='"Liberation Sans", sans-serif' font-size="11" fill="#2e2e2e" text-anchor="middle" stroke="#2e2e2e" stroke-width="0.3">30</text>
<text transform="translate(142.20 592.10) rotate(-90) scale(0.900 1.000)" font-family='"Liberation Sans", sans-serif' font-size="11" fill="#2e2e2e" text-anchor="middle" stroke="#2e2e2e" stroke-width="0.3">40</text>
<text transform="translate(142.20 572.28) rotate(-90) scale(0.900 1.000)" font-family='"Liberation Sans", sans-serif' font-size="11" fill="#2e2e2e" text-anchor="middle" stroke="#2e2e2e" stroke-width="0.3">50</text>
<text transform="translate(142.20 552.45) rotate(-90) scale(0.900 1.000)" font-family='"Liberation Sans", sans-serif' font-size="11" fill="#2e2e2e" text-anchor="middle" stroke="#2e2e2e" stroke-width="0.3">60</text>
<text transform="translate(142.20 532.62) rotate(-90) scale(0.900 1.000)" font-family='"Liberation Sans", sans-serif' font-size="11" fill="#2e2e2e" text-anchor="middle" stroke="#2e2e2e" stroke-width="0.3">70</text>
<text transform="translate(142.20 512.80) rotate(-90) scale(0.900 1.000)" font-family='"Liberation Sans", sans-serif' font-size="11" fill="#2e2e2e" text-anchor="middle" stroke="#2e2e2e" stroke-width="0.3">80</text>
<text transform="translate(156.90 691.50) scale(0.880 1.000)" font-family='"Liberation Sans", sans-serif' font-size="11" fill="#2e2e2e" text-anchor="end" stroke="#2e2e2e" stroke-width="0.3">10</text>
<text transform="translate(157.00 685.50) scale(0.900 1.000)" font-family='"Liberation Sans", sans-serif' font-size="12.3" fill="#2e2e2e" text-anchor="start" stroke="#2e2e2e" stroke-width="0.3">0</text>
<text transform="translate(208.18 691.50) scale(0.880 1.000)" font-family='"Liberation Sans", sans-serif' font-size="11" fill="#2e2e2e" text-anchor="end" stroke="#2e2e2e" stroke-width="0.3">10</text>
<text transform="translate(208.28 685.50) scale(0.900 1.000)" font-family='"Liberation Sans", sans-serif' font-size="12.3" fill="#2e2e2e" text-anchor="start" stroke="#2e2e2e" stroke-width="0.3">1</text>
<text transform="translate(259.45 691.50) scale(0.880 1.000)" font-family='"Liberation Sans", sans-serif' font-size="11" fill="#2e2e2e" text-anchor="end" stroke="#2e2e2e" stroke-width="0.3">10</text>
<text transform="translate(259.55 685.50) scale(0.900 1.000)" font-family='"Liberation Sans", sans-serif' font-size="12.3" fill="#2e2e2e" text-anchor="start" stroke="#2e2e2e" stroke-width="0.3">2</text>
<text transform="translate(310.73 691.50) scale(0.880 1.000)" font-family='"Liberation Sans", sans-serif' font-size="11" fill="#2e2e2e" text-anchor="end" stroke="#2e2e2e" stroke-width="0.3">10</text>
<text transform="translate(310.83 685.50) scale(0.900 1.000)" font-family='"Liberation Sans", sans-serif' font-size="12.3" fill="#2e2e2e" text-anchor="start" stroke="#2e2e2e" stroke-width="0.3">3</text>
<text transform="translate(362.00 691.50) scale(0.880 1.000)" font-family='"Liberation Sans", sans-serif' font-size="11" fill="#2e2e2e" text-anchor="end" stroke="#2e2e2e" stroke-width="0.3">10</text>
<text transform="translate(362.10 685.50) scale(0.900 1.000)" font-family='"Liberation Sans", sans-serif' font-size="12.3" fill="#2e2e2e" text-anchor="start" stroke="#2e2e2e" stroke-width="0.3">4</text>
<text transform="translate(126.80 626.40) rotate(-90) scale(1.000 0.900)" font-family='"Liberation Mono", monospace' font-size="13.85" fill="#707070" text-anchor="start" >Cell number</text>
<text transform="translate(169.40 705.80) scale(1.000 0.860)" font-family='"Liberation Mono", monospace' font-size="13.85" fill="#6c6c6c" text-anchor="start" >Mean fluorescence intensity</text>
<rect x="385.6" y="690" width="16" height="12.4" fill="#fff"/>
<path d="M417.4 674.5 L417.4 672.4 L418.1 670.6 L420.8 658.4 L423.4 647.9 L426.0 637.3 L428.6 625.1 L431.3 612.8 L433.4 602.3 L435.1 598.8 L436.9 592.7 L438.3 586.5 L439.7 581.3 L440.9 573.4 L442.7 571.1 L444.4 571.6 L446.2 574.3 L447.9 572.5 L449.1 579.5 L450.5 586.5 L452.6 590.0 L454.0 597.0 L455.8 605.8 L457.6 611.9 L459.3 617.2 L461.1 622.4 L462.8 630.3 L464.6 638.2 L466.7 647.9 L468.9 656.6 L471.6 661.9 L475.1 666.2 L479.4 669.8 L483.8 672.0 L489.1 674.5 L496.1 674.5 L497.5 672.7 L499.2 674.5 Z" fill="#c4c4c4" stroke="none"/>
<path d="M417.4 674.5 L417.4 672.4 L418.1 670.6 L420.8 658.4 L423.4 647.9 L426.0 637.3 L428.6 625.1 L431.3 612.8 L433.4 602.3 L435.1 598.8 L436.9 592.7 L438.3 586.5 L439.7 581.3 L440.9 573.4 L442.7 571.1 L444.4 571.6 L446.2 574.3 L447.9 572.5 L449.1 579.5 L450.5 586.5 L452.6 590.0 L454.0 597.0 L455.8 605.8 L457.6 611.9 L459.3 617.2 L461.1 622.4 L462.8 630.3 L464.6 638.2 L466.7 647.9 L468.9 656.6 L471.6 661.9 L475.1 666.2 L479.4 669.8 L483.8 672.0 L489.1 674.5 L496.1 674.5 L497.5 672.7 L499.2 674.5" fill="none" stroke="#262626" stroke-width="1.3" stroke-linejoin="round"/>
<path d="M417.6 672.7 L418.1 672.4 L420.8 670.6 L424.3 668.9 L427.8 666.2 L430.4 662.7 L432.1 664.5 L434.4 661.0 L436.5 655.7 L438.6 650.5 L440.9 647.9 L443.2 645.2 L445.3 647.0 L447.9 644.3 L450.5 645.2 L453.2 640.8 L455.8 641.7 L458.4 638.2 L461.1 639.1 L463.2 633.8 L465.4 631.2 L468.1 630.3 L470.7 627.7 L472.4 622.4 L475.1 618.9 L477.2 613.7 L479.4 618.9 L481.7 620.7 L483.8 615.4 L485.6 610.2 L487.0 618.9 L489.1 621.6 L491.7 620.7 L493.5 626.8 L495.2 632.1 L497.0 636.5 L498.7 640.0 L501.3 641.7 L503.5 640.8 L505.7 644.3 L507.5 640.0 L509.2 647.9 L511.0 650.5 L513.6 640.8 L515.4 648.7 L517.1 647.9 L518.9 653.1 L520.6 654.9 L522.7 660.1 L525.0 655.7 L526.8 658.4 L528.5 663.6 L532.0 663.6 L533.0 664.8 L535.7 666.6 L538.3 669.2 L540.9 670.1 L542.7 669.2 L545.3 666.6 L547.0 670.1 L549.7 669.2 L552.3 672.7 L555.8 673.6 L561.1 673.6 L562.8 674.5" fill="none" stroke="#0a0a0a" stroke-width="2.65" stroke-linejoin="round" stroke-linecap="round"/>
<path d="M417.20 511.40H627.20V675.00" fill="none" stroke="#5a5a5a" stroke-width="1.4"/>
<path d="M417.20 510.70V675.00H627.90" fill="none" stroke="#1c1c1c" stroke-width="1.5"/>
<path d="M416.40 608.50L418.40 610.50L418.70 638.42L420.00 658.38L420.50 668.35L418.20 675.00L416.40 675.00Z" fill="#0a0a0a"/>
<path d="M411.20 675.00H417.20M414.10 670.91H417.20M414.10 666.82H417.20M414.10 662.73H417.20M414.10 658.64H417.20M411.20 654.55H417.20M414.10 650.46H417.20M414.10 646.37H417.20M414.10 642.28H417.20M414.10 638.19H417.20M411.20 634.10H417.20M414.10 630.01H417.20M414.10 625.92H417.20M414.10 621.83H417.20M414.10 617.74H417.20M411.20 613.65H417.20M414.10 609.56H417.20M414.10 605.47H417.20M414.10 601.38H417.20M414.10 597.29H417.20M411.20 593.20H417.20M414.10 589.11H417.20M414.10 585.02H417.20M414.10 580.93H417.20M414.10 576.84H417.20M411.20 572.75H417.20M414.10 568.66H417.20M414.10 564.57H417.20M414.10 560.48H417.20M414.10 556.39H417.20M411.20 552.30H417.20M414.10 548.21H417.20M414.10 544.12H417.20M414.10 540.03H417.20M414.10 535.94H417.20M411.20 531.85H417.20M414.10 527.76H417.20M414.10 523.67H417.20M414.10 519.58H417.20M414.10 515.49H417.20M411.20 511.40H417.20" stroke="#2a2a2a" stroke-width="1" fill="none"/>
<path d="M417.20 675.00V680.00M433.00 675.00V677.80M442.25 675.00V677.80M448.81 675.00V677.80M453.90 675.00V677.80M458.05 675.00V677.80M461.57 675.00V677.80M464.61 675.00V677.80M467.30 675.00V677.80M469.70 675.00V680.00M485.50 675.00V677.80M494.75 675.00V677.80M501.31 675.00V677.80M506.40 675.00V677.80M510.55 675.00V677.80M514.07 675.00V677.80M517.11 675.00V677.80M519.80 675.00V677.80M522.20 675.00V680.00M538.00 675.00V677.80M547.25 675.00V677.80M553.81 675.00V677.80M558.90 675.00V677.80M563.05 675.00V677.80M566.57 675.00V677.80M569.61 675.00V677.80M572.30 675.00V677.80M574.70 675.00V680.00M590.50 675.00V677.80M599.75 675.00V677.80M606.31 675.00V677.80M611.40 675.00V677.80M615.55 675.00V677.80M619.07 675.00V677.80M622.11 675.00V677.80M624.80 675.00V677.80M627.20 675.00V680.00" stroke="#2a2a2a" stroke-width="1" fill="none"/>
<text transform="translate(406.20 674.30) rotate(-90) scale(0.840 1.000)" font-family='"Liberation Sans", sans-serif' font-size="9.2" fill="#2e2e2e" text-anchor="middle" stroke="#2e2e2e" stroke-width="0.3">0</text>
<text transform="translate(406.20 653.85) rotate(-90) scale(0.840 1.000)" font-family='"Liberation Sans", sans-serif' font-size="9.2" fill="#2e2e2e" text-anchor="middle" stroke="#2e2e2e" stroke-width="0.3">10</text>
<text transform="translate(406.20 633.40) rotate(-90) scale(0.840 1.000)" font-family='"Liberation Sans", sans-serif' font-size="9.2" fill="#2e2e2e" text-anchor="middle" stroke="#2e2e2e" stroke-width="0.3">20</text>
<text transform="translate(406.20 612.95) rotate(-90) scale(0.840 1.000)" font-family='"Liberation Sans", sans-serif' font-size="9.2" fill="#2e2e2e" text-anchor="middle" stroke="#2e2e2e" stroke-width="0.3">30</text>
<text transform="translate(406.20 592.50) rotate(-90) scale(0.840 1.000)" font-family='"Liberation Sans", sans-serif' font-size="9.2" fill="#2e2e2e" text-anchor="middle" stroke="#2e2e2e" stroke-width="0.3">40</text>
<text transform="translate(406.20 572.05) rotate(-90) scale(0.840 1.000)" font-family='"Liberation Sans", sans-serif' font-size="9.2" fill="#2e2e2e" text-anchor="middle" stroke="#2e2e2e" stroke-width="0.3">50</text>
<text transform="translate(406.20 551.60) rotate(-90) scale(0.840 1.000)" font-family='"Liberation Sans", sans-serif' font-size="9.2" fill="#2e2e2e" text-anchor="middle" stroke="#2e2e2e" stroke-width="0.3">60</text>
<text transform="translate(406.20 531.15) rotate(-90) scale(0.840 1.000)" font-family='"Liberation Sans", sans-serif' font-size="9.2" fill="#2e2e2e" text-anchor="middle" stroke="#2e2e2e" stroke-width="0.3">70</text>
<text transform="translate(406.20 510.70) rotate(-90) scale(0.840 1.000)" font-family='"Liberation Sans", sans-serif' font-size="9.2" fill="#2e2e2e" text-anchor="middle" stroke="#2e2e2e" stroke-width="0.3">80</text>
<text transform="translate(418.20 691.20) scale(0.900 1.000)" font-family='"Liberation Sans", sans-serif' font-size="9.6" fill="#2e2e2e" text-anchor="end" stroke="#2e2e2e" stroke-width="0.3">10</text>
<text transform="translate(418.30 686.00) scale(0.930 1.000)" font-family='"Liberation Sans", sans-serif' font-size="9.8" fill="#2e2e2e" text-anchor="start" stroke="#2e2e2e" stroke-width="0.3">0</text>
<text transform="translate(470.70 691.20) scale(0.900 1.000)" font-family='"Liberation Sans", sans-serif' font-size="9.6" fill="#2e2e2e" text-anchor="end" stroke="#2e2e2e" stroke-width="0.3">10</text>
<text transform="translate(470.80 686.00) scale(0.930 1.000)" font-family='"Liberation Sans", sans-serif' font-size="9.8" fill="#2e2e2e" text-anchor="start" stroke="#2e2e2e" stroke-width="0.3">1</text>
<text transform="translate(523.20 691.20) scale(0.900 1.000)" font-family='"Liberation Sans", sans-serif' font-size="9.6" fill="#2e2e2e" text-anchor="end" stroke="#2e2e2e" stroke-width="0.3">10</text>
<text transform="translate(523.30 686.00) scale(0.930 1.000)" font-family='"Liberation Sans", sans-serif' font-size="9.8" fill="#2e2e2e" text-anchor="start" stroke="#2e2e2e" stroke-width="0.3">2</text>
<text transform="translate(575.70 691.20) scale(0.900 1.000)" font-family='"Liberation Sans", sans-serif' font-size="9.6" fill="#2e2e2e" text-anchor="end" stroke="#2e2e2e" stroke-width="0.3">10</text>
<text transform="translate(575.80 686.00) scale(0.930 1.000)" font-family='"Liberation Sans", sans-serif' font-size="9.8" fill="#2e2e2e" text-anchor="start" stroke="#2e2e2e" stroke-width="0.3">3</text>
<text transform="translate(628.20 691.20) scale(0.900 1.000)" font-family='"Liberation Sans", sans-serif' font-size="9.6" fill="#2e2e2e" text-anchor="end" stroke="#2e2e2e" stroke-width="0.3">10</text>
<text transform="translate(628.30 686.00) scale(0.930 1.000)" font-family='"Liberation Sans", sans-serif' font-size="9.8" fill="#2e2e2e" text-anchor="start" stroke="#2e2e2e" stroke-width="0.3">4</text>
<text transform="translate(394.70 621.60) rotate(-90) scale(1.000 0.900)" font-family='"Liberation Mono", monospace' font-size="13.85" fill="#787878" text-anchor="start" >Cell number</text>
<text transform="translate(436.80 704.60) scale(1.000 0.860)" font-family='"Liberation Mono", monospace' font-size="13.85" fill="#6c6c6c" text-anchor="start" >Mean fluorescence intensity</text>
<text transform="translate(186.20 1050.30) rotate(-90) scale(1.000 0.820)" font-family='"Liberation Mono", monospace' font-size="16.4" fill="#606060" text-anchor="start" >ICAM-1 (mean fluorescence intensity</text>
<path d="M264.0 960.2V952.7M253.7 952.7H274.3" stroke="#262626" stroke-width="1.35" fill="none"/>
<rect x="242.8" y="960.2" width="41.3" height="53.8" fill="#bdbdbd" stroke="#262626" stroke-width="1.45"/>
<path d="M304.5 894.9V864.4M294.2 864.4H314.8" stroke="#262626" stroke-width="1.35" fill="none"/>
<rect x="284.1" y="894.9" width="41.3" height="119.1" fill="#ffffff" stroke="#262626" stroke-width="1.45"/>
<path d="M346.2 918.6V895.1M335.9 895.1H356.5" stroke="#262626" stroke-width="1.35" fill="none"/>
<rect x="325.4" y="918.6" width="41.2" height="95.4" fill="#000000" stroke="#262626" stroke-width="1.45"/>
<path d="M428.4 969.4V962.4M418.1 962.4H438.7" stroke="#262626" stroke-width="1.35" fill="none"/>
<rect x="407.8" y="969.4" width="41.2" height="44.6" fill="#bdbdbd" stroke="#262626" stroke-width="1.45"/>
<path d="M469.5 938.3V923.4M459.2 923.4H479.8" stroke="#262626" stroke-width="1.35" fill="none"/>
<rect x="449.0" y="938.3" width="41.1" height="75.7" fill="#ffffff" stroke="#262626" stroke-width="1.45"/>
<path d="M510.7 950.1V937.0M500.4 937.0H521.0" stroke="#262626" stroke-width="1.35" fill="none"/>
<rect x="490.1" y="950.1" width="41.2" height="63.9" fill="#000000" stroke="#262626" stroke-width="1.45"/>
<path d="M222.6 794.1V1014.0H531.9" stroke="#262626" stroke-width="1.45" fill="none"/>
<path d="M216.4 1014.0H222.6M216.4 940.7H222.6M216.4 867.4H222.6M216.4 794.1H222.6" stroke="#262626" stroke-width="1.2" fill="none"/>
<text transform="translate(214.90 1019.90)" font-family='"Liberation Sans", sans-serif' font-size="13.5" fill="#777" text-anchor="end" letter-spacing="0.55">0</text>
<text transform="translate(214.90 946.60)" font-family='"Liberation Sans", sans-serif' font-size="13.5" fill="#777" text-anchor="end" letter-spacing="0.55">50</text>
<text transform="translate(214.90 873.30)" font-family='"Liberation Sans", sans-serif' font-size="13.5" fill="#777" text-anchor="end" letter-spacing="0.55">100</text>
<text transform="translate(214.90 800.00)" font-family='"Liberation Sans", sans-serif' font-size="13.5" fill="#777" text-anchor="end" letter-spacing="0.55">150</text>
<text transform="translate(307.60 874.00) scale(1.330 1.000)" font-family='"Liberation Mono", monospace' font-size="25" fill="#505050" text-anchor="middle" >*</text>
<text transform="translate(347.90 905.20) scale(1.330 1.000)" font-family='"Liberation Mono", monospace' font-size="25" fill="#505050" text-anchor="middle" >*</text>
<text transform="translate(472.00 932.20) scale(1.330 1.000)" font-family='"Liberation Mono", monospace' font-size="25" fill="#505050" text-anchor="middle" >*</text>
<text transform="translate(291.30 1033.00) scale(1.000 0.930)" font-family='"Liberation Mono", monospace' font-size="14.8" fill="#606060" text-anchor="start" >WT</text>
<text transform="translate(459.20 1033.30) scale(1.000 0.930)" font-family='"Liberation Mono", monospace' font-size="14.8" fill="#606060" text-anchor="start" >KO</text>
<rect x="491.0" y="772.7" width="24" height="8.9" fill="#bdbdbd" stroke="#262626" stroke-width="1.3"/>
<rect x="491.0" y="799.2" width="24" height="8.9" fill="#ffffff" stroke="#262626" stroke-width="1.3"/>
<rect x="491.0" y="824.9" width="24" height="8.9" fill="#000000" stroke="#262626" stroke-width="1.3"/>
<text transform="translate(527.70 782.80) scale(1.000 0.885)" font-family='"Liberation Mono", monospace' font-size="18.1" fill="#505050" text-anchor="start" >Control</text>
<text transform="translate(527.70 809.50) scale(1.000 0.885)" font-family='"Liberation Mono", monospace' font-size="18.1" fill="#505050" text-anchor="start" >TNF-a</text>
<text transform="translate(527.70 835.30) scale(1.000 0.885)" font-family='"Liberation Mono", monospace' font-size="18.1" fill="#505050" text-anchor="start" >Anti-Fas</text>
</svg>
</body></html>
